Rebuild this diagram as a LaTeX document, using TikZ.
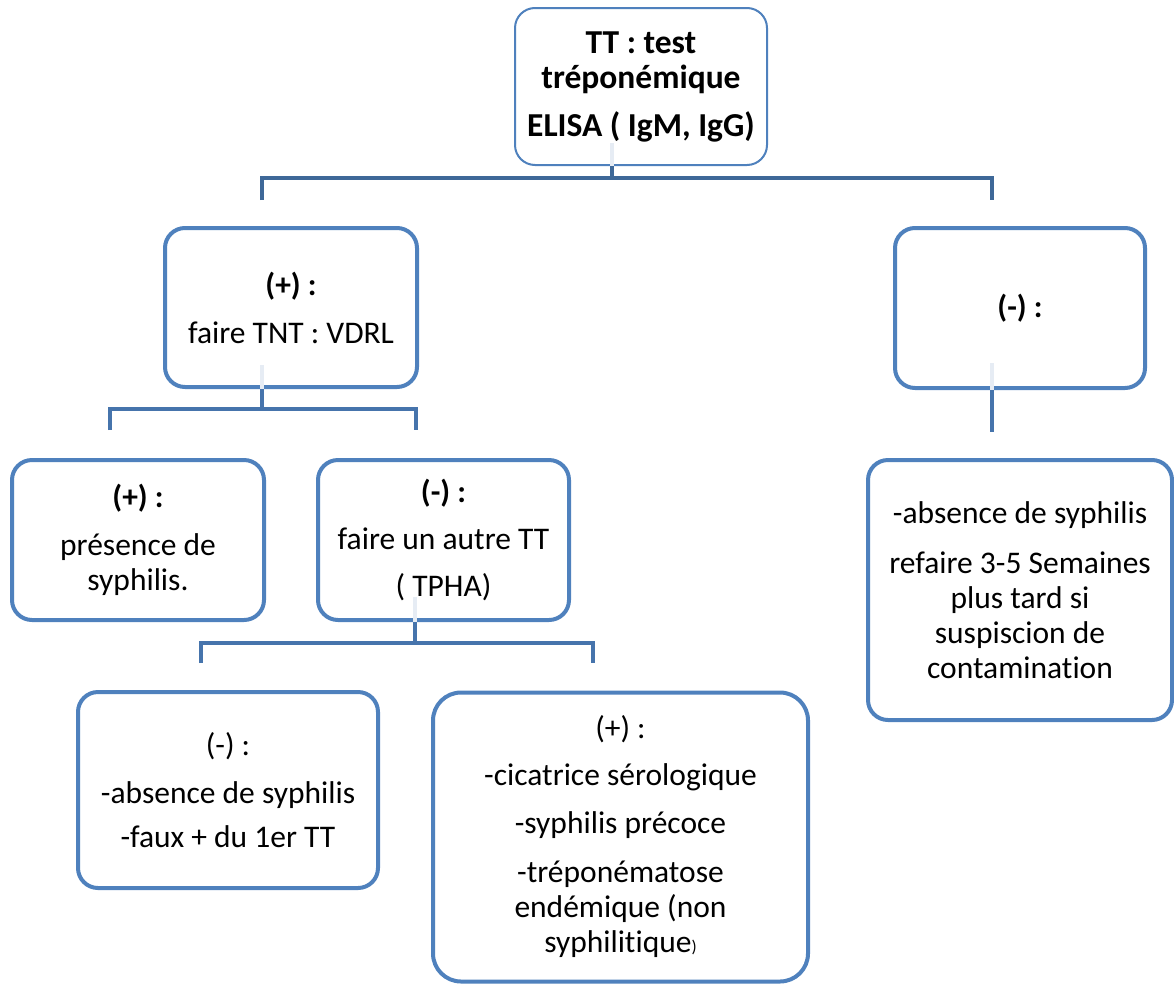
\documentclass[tikz,border=0pt]{standalone}
\usepackage{fontspec}
\setmainfont[Ligatures=NoCommon]{Carlito}
\usepackage{tikz}
\usetikzlibrary{positioning, calc}

\definecolor{bordBleu}{HTML}{4F81BD}
\definecolor{lienBleu}{HTML}{4674AC}
\definecolor{lienFonce}{HTML}{3E6898}
\definecolor{traceClair}{HTML}{E6ECF4}

\begin{document}
\begin{tikzpicture}[x=1pt, y=-1pt,
        boite/.style={draw=bordBleu, line width=4pt, rounded corners=20pt,
            fill=white, align=center, inner sep=0pt,
            font=\fontsize{31.5}{35}\selectfont},
        lien/.style={draw=lienBleu, line width=4.5pt},
        trace/.style={draw=traceClair, line width=4.5pt}]
        % ============================================================
        % 1 unite = 1 pixel de l'image (1174 x 983), axe y vers le bas
        % ============================================================
        \useasboundingbox (0,0) rectangle (1174,983);

        % === 1. TEST TREPONEMIQUE (haut) ===
        \node[boite, line width=2pt, minimum width=252, minimum height=157,
            font=\fontsize{33.5}{35}\selectfont\bfseries] (tt) at (641, 86.5)
            {TT : test\\tréponémique\\[13pt]ELISA ( IgM, IgG)};

        % === 2. NIVEAU 2 : (+) / (-) ===
        \node[boite, minimum width=252, minimum height=159] (posA) at (291, 307.5)
            {\textbf{(+) :}\\[13pt]faire TNT : VDRL};
        \node[boite, minimum width=250, minimum height=160] (negA) at (1020, 308)
            {\textbf{(-) :}};

        % === 3. NIVEAU 3 : sous VDRL ===
        \node[boite, minimum width=252, minimum height=160] (posB) at (138, 540)
            {\textbf{(+) :}\\[13pt]présence de\\syphilis.};
        \node[boite, minimum width=251, minimum height=160] (negB) at (443.5, 540)
            {\textbf{(-) :}\\[12pt]faire un autre TT\\[12pt]( TPHA)};
        \node[boite, minimum width=304, minimum height=260] (absR) at (1020, 590)
            {-absence de syphilis\\[15pt]refaire 3-5 Semaines\\plus tard si\\suspiscion de\\contamination};

        % === 4. NIVEAU 4 : sous TPHA ===
        \node[boite, minimum width=300, minimum height=196] (negC) at (228, 790)
            {(-) :\\[13pt]-absence de syphilis\\[9pt]-faux + du 1er TT};
        \node[boite, rounded corners=28pt, minimum width=375, minimum height=289] (posC) at (620.5, 837)
            {(+) :\\[12pt]-cicatrice sérologique\\[13pt]-syphilis précoce\\[14pt]-tréponématose\\endémique (non\\syphilitique{\fontsize{17}{17}\selectfont)}};

        % === 5. POINTS DE JONCTION ===
        \coordinate (j1) at (612, 178);
        \coordinate (sA) at (262, 200);
        \coordinate (sN) at (992, 200);
        \coordinate (j2) at (262, 409);
        \coordinate (sB) at (110, 430);
        \coordinate (sC) at (416, 430);
        \coordinate (j3) at (415, 643);
        \coordinate (sD) at (201, 663);
        \coordinate (sE) at (593, 663);
        \coordinate (sR) at (992, 432);

        % === 6. TRACES CLAIRES DANS LES BOITES ===
        \draw[trace] (612, 143) -- (tt.south -| j1);
        \draw[trace] (262, 365) -- (posA.south -| j2);
        \draw[trace] (415, 597) -- (negB.south -| j3);
        \draw[trace] (992, 363) -- (negA.south -| sR);

        % === 7. CONNECTEURS ===
        \draw[lien, draw=lienFonce] (tt.south -| j1) -- (j1);
        \draw[lien, draw=lienFonce] (sA) |- (j1) -| (sN);
        \draw[lien] (posA.south -| j2) -- (j2);
        \draw[lien] (sB) |- (j2) -| (sC);
        \draw[lien] (negB.south -| j3) -- (j3);
        \draw[lien] (sD) |- (j3) -| (sE);
        \draw[lien] (negA.south -| sR) -- (sR);

    \end{tikzpicture}
\end{document}
